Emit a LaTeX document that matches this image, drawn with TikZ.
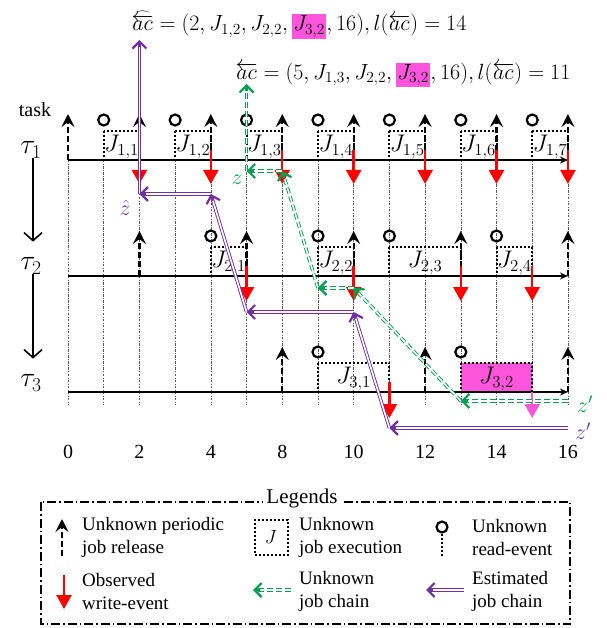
\documentclass[tikz,border=0pt]{standalone}
\usepackage{fix-cm}
\usepackage{fontspec}
\setmainfont{Liberation Serif}
\usepackage{xcolor}
\usetikzlibrary{arrows.meta, calc}

\definecolor{chainpurple}{RGB}{112,48,160}
\definecolor{chaingreen}{RGB}{0,160,80}
\definecolor{jobmagenta}{RGB}{255,85,220}

\newcommand{\hljob}[1]{{\setlength{\fboxsep}{1.5pt}\colorbox{jobmagenta}{$#1$}}}

\begin{document}
\begin{tikzpicture}[
        x=1pt, y=-1pt,
        gridline/.style={line width=0.5pt, black!65, dash pattern=on 2.5pt off 1.5pt on 0.6pt off 1.5pt},
        axisline/.style={line width=1.6pt, -{Stealth[length=8pt, width=7pt]}},
        release/.style={line width=2.2pt, dash pattern=on 6pt off 3pt,
                        -{Stealth[length=13pt, width=13pt, inset=5pt]}},
        readev/.style={circle, draw, line width=2.2pt, minimum size=11pt, inner sep=0pt},
        jobbox/.style={draw, line width=2pt, dash pattern=on 2pt off 2pt},
        writeev/.style={red, line width=2.4pt, -{Triangle[length=14pt, width=15pt]}},
        joblab/.style={font=\fontsize{24}{28}\selectfont, inner sep=0pt},
        ticklab/.style={font=\fontsize{20}{24}\selectfont},
        tasklab/.style={font=\fontsize{28}{32}\selectfont, inner sep=0pt},
        taskarrow/.style={line width=1.6pt, -{Straight Barb[length=8pt, width=18pt]}},
        estline/.style={draw=chainpurple, double=white, line width=0.9pt,
                        double distance=1.6pt, shorten >=2pt},
        unkline/.style={estline, draw=chaingreen, dash pattern=on 6pt off 3pt},
        esttip/.style={chainpurple, line width=2.2pt, -{Straight Barb[length=7pt, width=14pt]}},
        unktip/.style={esttip, chaingreen},
        chainlab/.style={font=\fontsize{22}{26}\selectfont, inner sep=0pt},
        formula/.style={font=\fontsize{22}{26}\selectfont, inner sep=0pt},
        legtext/.style={font=\fontsize{19}{23}\selectfont, align=left, anchor=west, inner sep=0pt},
        legframe/.style={line width=1.4pt, dash pattern=on 9pt off 3pt on 1.5pt off 3pt}
    ]
    \useasboundingbox (0,0) rectangle (606,628);

    % Chain formulas
    \node[formula] (estform) at (299,25)
        {$\widehat{\overleftarrow{ac}}=\big(2,J_{1,2},J_{2,2},\hljob{J_{3,2}},16\big),l(\overleftarrow{ac})=14$};
    \node[formula] (unkform) at (403,75)
        {$\overleftarrow{ac}=\big(5,J_{1,3},J_{2,2},\hljob{J_{3,2}},16\big),l(\overleftarrow{ac})=11$};

    % Tasks
    \node[font=\fontsize{20}{24}\selectfont] (tasktitle) at (35,110) {task};
    \node[tasklab] (tau1) at (31,150) {$\tau_1$};
    \node[tasklab] (tau2) at (31,266) {$\tau_2$};
    \node[tasklab] (tau3) at (31,383) {$\tau_3$};
    \draw[taskarrow, shorten >=16pt] ([xshift=2pt]tau1.south) -- ([xshift=2pt]tau2.north);
    \draw[taskarrow, shorten >=16pt] ([xshift=2pt]tau2.south) -- ([xshift=2pt]tau3.north);

    \begin{scope}[shift={(68,0)}, x=35.71pt]
        % Grid
        \foreach \i in {0,...,14}
            \draw[gridline] (\i,160) -- (\i,405);
        \foreach \i/\lab in {0/0,2/2,4/4,6/8,8/10,10/12,12/14,14/16}
            \node[ticklab] (tick\i) at (\i,452) {\lab};

        % Jobs
        \fill[jobmagenta] (11,363) rectangle (13,392);
        \foreach \r/\w/\k in {1/2/1,3/4/2,5/6/3,7/8/4,9/10/5,11/12/6,13/14/7} {
            \draw[jobbox] (\r,131) rectangle (\w,160);
            \node[joblab] (job1\k) at ({(\r+\w)/2},147) {$J_{1,\k}$};
        }
        \foreach \r/\w/\k in {4/5/1,7/8/2,9/11/3,12/13/4} {
            \draw[jobbox] (\r,247) rectangle (\w,276);
            \node[joblab] (job2\k) at ({(\r+\w)/2},263) {$J_{2,\k}$};
        }
        \foreach \r/\w/\k in {7/9/1,11/13/2} {
            \draw[jobbox] (\r,363) rectangle (\w,392);
            \node[joblab] (job3\k) at ({(\r+\w)/2},379) {$J_{3,\k}$};
        }

        % Axes
        \foreach \y in {160,276,392}
            \draw[axisline] (0,\y) -- (14,\y);

        % Releases
        \foreach \i in {0,2,...,14}
            \draw[release] (\i,160) -- (\i,114);
        \foreach \i in {2,5,8,11,14}
            \draw[release] (\i,276) -- (\i,231);
        \foreach \i in {6,10,14}
            \draw[release] (\i,392) -- (\i,347);

        % Read-events
        \foreach \r/\k in {1/1,3/2,5/3,7/4,9/5,11/6,13/7}
            \node[readev] (read1\k) at (\r,120) {};
        \foreach \r/\k in {4/1,7/2,9/3,12/4}
            \node[readev] (read2\k) at (\r,236) {};
        \foreach \r/\k in {7/1,11/2}
            \node[readev] (read3\k) at (\r,352) {};

        % Write-events
        \foreach \w in {2,4,...,14}
            \draw[writeev] (\w,150) -- (\w,184);
        \foreach \w in {5,8,11,13}
            \draw[writeev] (\w,266) -- (\w,301);
        \draw[writeev] (9,382) -- (9,418);
        \draw[writeev, jobmagenta] (13,392) -- (13,418);

        % Unknown job chain
        \coordinate (unk0) at (14,401);
        \coordinate (unk1) at (11,401);
        \coordinate (unk2) at (8,288);
        \coordinate (unk3) at (7,288);
        \coordinate (unk4) at (6,171);
        \coordinate (unk5) at (5,171);
        \coordinate (unk6) at (5,84);
        \foreach \a/\b in {0/1,1/2,2/3,3/4,4/5,5/6}
            \draw[unkline] (unk\a) -- (unk\b);
        \foreach \a/\b in {0/1,1/2,2/3,3/4,4/5,5/6}
            \draw[unktip] ($(unk\b)!7pt!(unk\a)$) -- (unk\b);

        % Estimated job chain
        \coordinate (est0) at (14,428);
        \coordinate (est1) at (9,428);
        \coordinate (est2) at (8,312);
        \coordinate (est3) at (5,312);
        \coordinate (est4) at (4,194);
        \coordinate (est5) at (2,194);
        \coordinate (est6) at (2,40);
        \foreach \a/\b in {0/1,1/2,2/3,3/4,4/5,5/6}
            \draw[estline] (est\a) -- (est\b);
        \foreach \a/\b in {0/1,1/2,2/3,3/4,4/5,5/6}
            \draw[esttip] ($(est\b)!7pt!(est\a)$) -- (est\b);
    \end{scope}

    % Chain labels
    \node[chainlab, text=chaingreen] (zunk) at (237,180) {$z$};
    \node[chainlab, text=chainpurple] (zest) at (125,208) {$\hat{z}$};
    \node[chainlab, text=chaingreen] (zunkend) at (585,404) {$z'$};
    \node[chainlab, text=chainpurple] (zestend) at (583,431) {$z'$};

    % Legend
    \draw[legframe] (41,502) rectangle (570,624);
    \node[fill=white, font=\fontsize{21}{25}\selectfont, inner sep=3pt] (legtitle) at (302,498) {Legends};
    \draw[release] (62,556) -- (62,519);
    \node[legtext] (legrel) at (82,537) {Unknown periodic\\job release};
    \node[jobbox, minimum width=33pt, minimum height=35pt, font=\fontsize{19}{22}\selectfont] (legjob) at (271,537) {$J$};
    \node[legtext] (legexec) at (299,537) {Unknown\\job execution};
    \node[readev] (legread) at (442,527) {};
    \draw[jobbox] (legread.south) -- (442,556);
    \node[legtext] (legreadtxt) at (472,537) {Unknown\\read-event};
    \draw[writeev] (64,575) -- (64,609);
    \node[legtext] (legwrite) at (82,591) {Observed\\write-event};
    \coordinate (legunkA) at (291,590);
    \coordinate (legunkB) at (253,590);
    \draw[unkline] (legunkA) -- (legunkB);
    \draw[unktip] ($(legunkB)!7pt!(legunkA)$) -- (legunkB);
    \node[legtext] (legunk) at (299,591) {Unknown\\job chain};
    \coordinate (legestA) at (464,590);
    \coordinate (legestB) at (426,590);
    \draw[estline] (legestA) -- (legestB);
    \draw[esttip] ($(legestB)!7pt!(legestA)$) -- (legestB);
    \node[legtext] (legest) at (472,591) {Estimated\\job chain};
\end{tikzpicture}
\end{document}
